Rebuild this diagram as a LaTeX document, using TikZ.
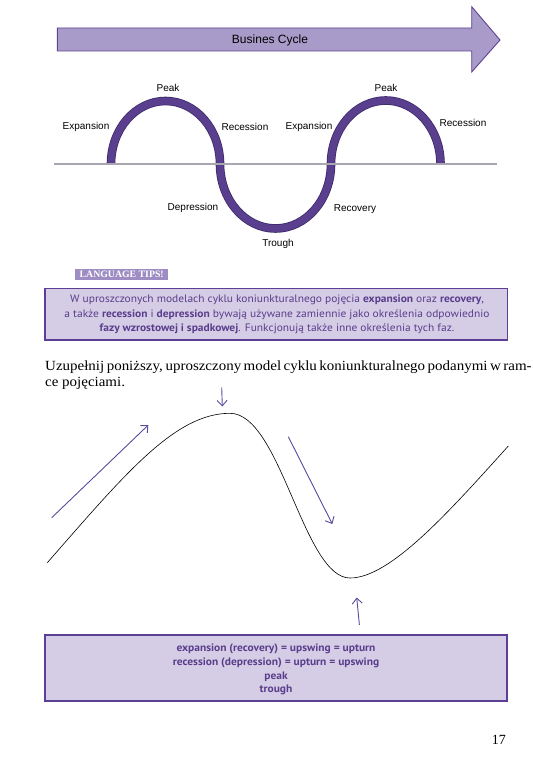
\documentclass[tikz,border=0pt]{standalone}
\usepackage{fontspec}
\setmainfont{Liberation Serif}
\newfontfamily\arialf{Liberation Sans}
\newfontfamily\ptsans[FakeStretch=1.06]{PT Sans}
\newfontfamily\instrfont[FakeStretch=1.07]{Liberation Serif}
\usetikzlibrary{arrows.meta}
\definecolor{arrfill}{HTML}{A99BC9}
\definecolor{arrdraw}{HTML}{5E4391}
\definecolor{bandc}{HTML}{5A3F8E}
\definecolor{bandedge}{HTML}{3E2A6A}
\definecolor{greyline}{HTML}{A8A7AF}
\definecolor{boxfill}{HTML}{D5CDE5}
\definecolor{boxdraw}{HTML}{5C3F95}
\definecolor{tipfill}{HTML}{9D8DC3}
\definecolor{purtext}{HTML}{5A3D8C}
\definecolor{arrc}{HTML}{5B4A9E}
\tikzset{
  lbl/.style={font=\arialf\fontsize{10}{12}\selectfont, inner sep=0pt, text=black},
  infobox/.style={fill=boxfill, draw=boxdraw, line width=1.2pt},
  tipline/.style={font=\ptsans\fontsize{10.8}{13}\selectfont, text=purtext, inner sep=0pt, anchor=base},
  termline/.style={font=\ptsans\bfseries\fontsize{10.8}{13}\selectfont, text=purtext, inner sep=0pt, anchor=base},
  instrline/.style={font=\instrfont\fontsize{14}{16}\selectfont, inner sep=0pt, anchor=base west},
  purparrow/.style={draw=arrc, line width=0.9pt, -{Straight Barb[length=5.5pt,width=10pt]}},
}
\begin{document}
\begin{tikzpicture}[x=1pt,y=-1pt]
\useasboundingbox (0,0) rectangle (532,759);
\fill[white] (0,0) rectangle (532,759);

% big arrow
\draw[fill=arrfill, draw=arrdraw, line width=0.9pt]
  (57.3,28) -- (471.7,28) -- (471.7,6.7) -- (500,40) -- (471.7,72) -- (471.7,51) -- (57.3,51) -- cycle;
\node[font=\arialf\fontsize{12}{14}\selectfont, inner sep=0pt] (title) at (270,40) {Busines Cycle};

% wave band
\draw[line width=8.6pt, bandedge] (111,164) arc[start angle=180, end angle=360, x radius=54.5, y radius=63]
  arc[start angle=180, end angle=0, x radius=55.5, y radius=64.5]
  arc[start angle=180, end angle=360, x radius=54.75, y radius=63.5];
\draw[line width=7pt, bandc] (111,164) arc[start angle=180, end angle=360, x radius=54.5, y radius=63]
  arc[start angle=180, end angle=0, x radius=55.5, y radius=64.5]
  arc[start angle=180, end angle=360, x radius=54.75, y radius=63.5];
\draw[greyline, line width=2.3pt] (54,164) -- (497,164);

% wave labels
\node[lbl] (peak1) at (168,88) {Peak};
\node[lbl] (exp1) at (86,127) {Expansion};
\node[lbl] (rec1) at (245,127) {Recession};
\node[lbl] (exp2) at (309,127) {Expansion};
\node[lbl] (peak2) at (386,88) {Peak};
\node[lbl] (rec2) at (463,123) {Recession};
\node[lbl] (dep) at (193,208) {Depression};
\node[lbl] (recov) at (355,209) {Recovery};
\node[lbl] (trough) at (278,244) {Trough};

% language tips
\node[fill=tipfill, minimum width=93.3pt, minimum height=11.6pt, inner sep=0pt,
  font=\bfseries\fontsize{9.8}{10}\selectfont, text=white] (tips) at (121.7,274.5) {LANGUAGE TIPS!};
\draw[infobox] (45,288.3) rectangle (507.7,340);
\node[tipline] (tip1) at (277,302.5) {W uproszczonych modelach cyklu koniunkturalnego pojęcia \textbf{expansion} oraz \textbf{recovery},};
\node[tipline] (tip2) at (277,317) {a także \textbf{recession} i \textbf{depression} bywają używane zamiennie jako określenia odpowiednio};
\node[tipline] (tip3) at (277,331.5) {\textbf{fazy wzrostowej i spadkowej}. Funkcjonują także inne określenia tych faz.};

% instruction
\node[instrline] (instr1) at (45,370)
  {\makebox[465pt][s]{Uzupełnij poniższy, uproszczony model cyklu koniunkturalnego podanymi w ram-}};
\node[instrline] (instr2) at (45,386.5) {ce pojęciami.};

% curve
\draw[black, line width=0.6pt] (47.3,562.7)
  .. controls (125,474) and (175,413.3) .. (230,413.3)
  .. controls (280.5,413.3) and (303.5,578) .. (350,578)
  .. controls (390,578) and (448.3,512.6) .. (508.3,446);

% arrows
\coordinate (a1s) at (51.7,517.7); \coordinate (a1e) at (148.3,425);
\coordinate (a2s) at (221.7,387.3); \coordinate (a2e) at (222.3,406.5);
\coordinate (a3s) at (288.3,436.7); \coordinate (a3e) at (332.3,524);
\coordinate (a4s) at (359.4,625); \coordinate (a4e) at (356.7,597.5);
\draw[purparrow] (a1s) -- (a1e);
\draw[purparrow] (a2s) -- (a2e);
\draw[purparrow] (a3s) -- (a3e);
\draw[purparrow] (a4s) -- (a4e);

% bottom box
\draw[infobox] (45,635) rectangle (507,701);
\node[termline] (term1) at (276,651.7) {expansion (recovery) = upswing = upturn};
\node[termline] (term2) at (276,665.5) {recession (depression) = upturn = upswing};
\node[termline] (term3) at (276,679.2) {peak};
\node[termline] (term4) at (276,692.7) {trough};

% page number
\node[anchor=base east, inner sep=0pt, font=\fontsize{14}{16}\selectfont] (pnum) at (506,744) {17};
\end{tikzpicture}
\end{document}
